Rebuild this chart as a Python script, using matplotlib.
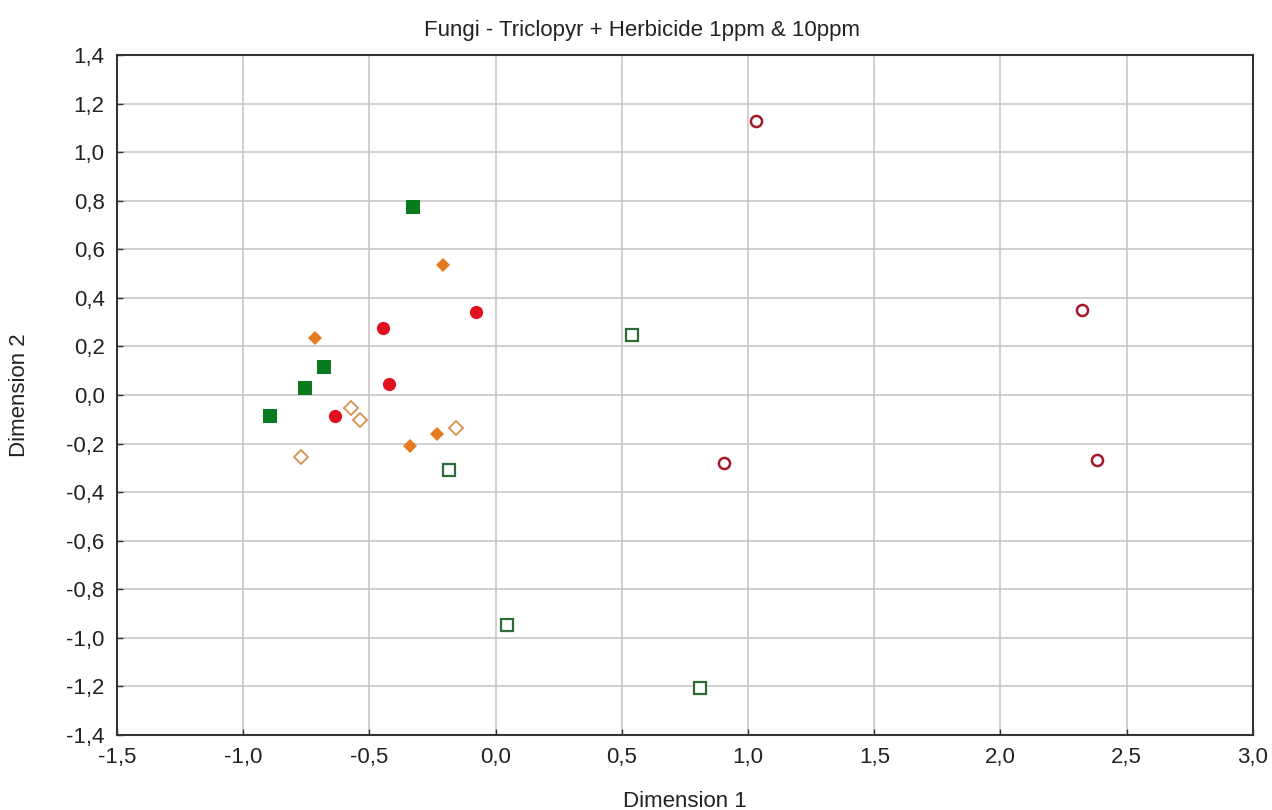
import numpy as np
import matplotlib.pyplot as plt
from matplotlib.ticker import FuncFormatter, MultipleLocator

plt.rcParams['font.family'] = ['Liberation Sans Narrow', 'Liberation Sans', 'DejaVu Sans']

# filled green squares
sq_fill_x = [-0.328, -0.681, -0.756, -0.895]
sq_fill_y = [0.773, 0.114, 0.028, -0.088]
# open green squares
sq_open_x = [0.542, -0.186, 0.043, 0.811]
sq_open_y = [0.247, -0.309, -0.947, -1.208]
# filled orange diamonds
dm_fill_x = [-0.208, -0.714, -0.231, -0.338]
dm_fill_y = [0.535, 0.236, -0.162, -0.209]
# open orange diamonds
dm_open_x = [-0.575, -0.536, -0.158, -0.773]
dm_open_y = [-0.052, -0.102, -0.137, -0.255]
# filled red circles
ci_fill_x = [-0.079, -0.447, -0.424, -0.635]
ci_fill_y = [0.343, 0.277, 0.045, -0.085]
# open red circles
ci_open_x = [1.032, 0.904, 2.324, 2.383]
ci_open_y = [1.129, -0.280, 0.350, -0.268]

fig = plt.figure(figsize=(12.72, 8.10), dpi=100)
ax = fig.add_axes([0.092, 0.0926, 0.893, 0.8395])

ax.plot(sq_fill_x, sq_fill_y, 's', color='#0a7a1e', markersize=10.5, markeredgewidth=0, zorder=3)
ax.plot(sq_open_x, sq_open_y, 's', markerfacecolor='white', markeredgecolor='#2f6b35',
        markersize=8, markeredgewidth=1.6, zorder=3)
ax.plot(dm_fill_x, dm_fill_y, 'D', color='#e57a1f', markersize=7.5, markeredgewidth=0, zorder=3)
ax.plot(dm_open_x, dm_open_y, 'D', markerfacecolor='white', markeredgecolor='#d4914e',
        markersize=7.5, markeredgewidth=1.3, zorder=3)
ax.plot(ci_fill_x, ci_fill_y, 'o', color='#e0101e', markersize=9.5, markeredgewidth=0, zorder=3)
ax.plot(ci_open_x, ci_open_y, 'o', markerfacecolor='white', markeredgecolor='#a3192a',
        markersize=8, markeredgewidth=1.8, zorder=3)

ax.set_xlim(-1.5, 3.0)
ax.set_ylim(-1.4, 1.4)
ax.xaxis.set_major_locator(MultipleLocator(0.5))
ax.yaxis.set_major_locator(MultipleLocator(0.2))
fmt = FuncFormatter(lambda v, p: ('%.1f' % v).replace('-0.0', '0.0').replace('.', ','))
ax.xaxis.set_major_formatter(fmt)
ax.yaxis.set_major_formatter(fmt)

ax.grid(True, color='#c8c8c8', linewidth=1.2)
ax.set_axisbelow(True)
for s in ax.spines.values():
    s.set_color('#333333')
    s.set_linewidth(1.5)
ax.tick_params(direction='in', length=4, width=1, colors='#333333', labelsize=16,
               labelcolor='#222222', pad=9)

ax.set_xlabel('Dimension 1', fontsize=16, color='#222222', labelpad=16)
ax.set_ylabel('Dimension 2', fontsize=16, color='#222222', labelpad=26)
fig.text(0.505, 0.962, 'Fungi - Triclopyr + Herbicide 1ppm & 10ppm', ha='center', va='center',
         fontsize=16, color='#222222')

fig.savefig('out.png', dpi=100)
